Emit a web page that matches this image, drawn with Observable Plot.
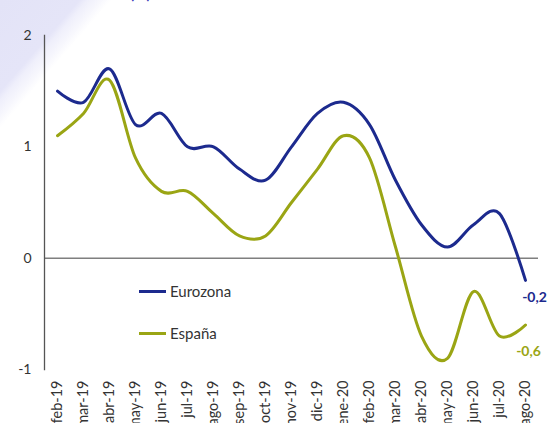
<!DOCTYPE html>
<html><head><meta charset="utf-8">
<script src="https://cdn.jsdelivr.net/npm/d3@7"></script>
<script src="https://cdn.jsdelivr.net/npm/@observablehq/plot@0.6"></script>
<style>
html,body{margin:0;padding:0;background:#fff;}
#wrap{position:relative;width:552px;height:423px;overflow:hidden;
  background:linear-gradient(131deg,#e3e3f7 0px,#e5e5f8 60px,#efeffb 66px,#f7f7fd 76px,#ffffff 84px);
  font-family:Lato,"Open Sans",sans-serif;color:#333;}
#wrap svg{position:absolute;left:0;top:0;}
#title{position:absolute;left:130px;top:-16px;font-size:15px;font-weight:bold;color:#3a3ab8;}
.leg{position:absolute;font-size:15px;color:#333;display:flex;align-items:center;line-height:1;}
.leg span.sw{display:inline-block;width:27px;height:3px;margin-right:4px;}
</style></head>
<body>
<div id="wrap">
  <div id="title">(%)</div>
  <div id="chart"></div>
  <div class="leg" style="left:139px;top:284px;"><span class="sw" style="background:#1c2a8e"></span>Eurozona</div>
  <div class="leg" style="left:139px;top:326px;"><span class="sw" style="background:#9aa514"></span>España</div>
</div>
<script>
const months = ["feb-19","mar-19","abr-19","may-19","jun-19","jul-19","ago-19","sep-19","oct-19","nov-19","dic-19","ene-20","feb-20","mar-20","abr-20","may-20","jun-20","jul-20","ago-20"];
const eurozona = [1.5,1.4,1.7,1.2,1.3,1.0,1.0,0.8,0.7,1.0,1.3,1.4,1.2,0.7,0.3,0.1,0.3,0.4,-0.2];
const espana   = [1.1,1.3,1.6,0.9,0.6,0.6,0.4,0.2,0.2,0.5,0.8,1.1,0.9,0.1,-0.7,-0.9,-0.3,-0.7,-0.6];
const yTicks = [-1,0,1,2];
const colors = {Eurozona:"#1c2a8e", "España":"#9aa514"};

const rows = [];
months.forEach((m,i)=>{
  rows.push({month:m, serie:"Eurozona", value:eurozona[i]});
  rows.push({month:m, serie:"España", value:espana[i]});
});
const fmt = v => d3.format(".1f")(v).replace(".", ",").replace("−","-");
const curve = d3.curveCatmullRom.alpha(0);

const chart = Plot.plot({
  width:552, height:423,
  marginLeft:44, marginRight:14, marginTop:35, marginBottom:54,
  style:{background:"transparent", fontFamily:"Lato, 'Open Sans', sans-serif", fontSize:"14px", color:"#333"},
  x:{type:"point", domain:months, padding:0.5, label:null},
  y:{domain:[-1,2], label:null},
  marks:[
    Plot.ruleY([0], {stroke:"#7f7f7f", strokeWidth:1.5}),
    Plot.frame({anchor:"left", stroke:"#555", strokeWidth:1.3}),
    Plot.axisY({ticks:yTicks, tickSize:0, tickPadding:13, fontSize:14, tickFormat:d=>String(d), label:null}),
    Plot.axisX({tickSize:0, tickPadding:11, tickRotate:-90, fontSize:14.5, label:null}),
    Plot.line(rows.filter(d=>d.serie==="España"), {x:"month", y:"value", stroke:colors["España"], strokeWidth:3, curve}),
    Plot.line(rows.filter(d=>d.serie==="Eurozona"), {x:"month", y:"value", stroke:colors.Eurozona, strokeWidth:3, curve}),
    Plot.text(rows.filter(d=>d.serie==="Eurozona"), Plot.selectLast({x:"month", y:"value", text:d=>fmt(d.value), fill:colors.Eurozona, fontWeight:"bold", fontSize:14, dx:9, dy:17})),
    Plot.text(rows.filter(d=>d.serie==="España"), Plot.selectLast({x:"month", y:"value", text:d=>fmt(d.value), fill:colors["España"], fontWeight:"bold", fontSize:14, dx:3, dy:27}))
  ]
});
document.getElementById("chart").appendChild(chart);
</script>
</body></html>
